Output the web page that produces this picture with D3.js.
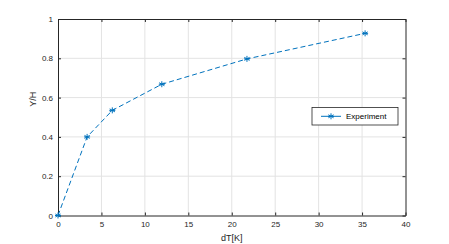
<!DOCTYPE html>
<html>
<head>
<meta charset="utf-8">
<script src="https://cdn.jsdelivr.net/npm/d3@7"></script>
<style>
  body { margin: 0; background: #fff; }
  svg { display: block; font-family: "Liberation Sans", Arial, sans-serif; }
</style>
</head>
<body>
<div id="chart"></div>
<script>
// data
const dT = [0, 3.35, 6.25, 11.95, 21.75, 35.35];
const yH = [0, 0.40, 0.535, 0.668, 0.797, 0.927];
const xTicks = [0, 5, 10, 15, 20, 25, 30, 35, 40];
const yTicks = [0, 0.2, 0.4, 0.6, 0.8, 1];
const seriesName = "Experiment";

const W = 449, H = 244;
const mLeft = 58, mRight = 405.5, mTop = 19, mBottom = 215.5;
const blue = "#0072BD", axisCol = "#262626";

const svg = d3.select("#chart").append("svg")
  .attr("width", W).attr("height", H);

const x = d3.scaleLinear().domain([0, 40]).range([mLeft, mRight]);
const y = d3.scaleLinear().domain([0, 1]).range([mBottom, mTop]);

// grid
svg.append("g").selectAll("line").data(xTicks.slice(1, -1)).join("line")
  .attr("x1", d => x(d)).attr("x2", d => x(d))
  .attr("y1", mTop).attr("y2", mBottom)
  .attr("stroke", "#e3e3e3").attr("stroke-width", 1);
svg.append("g").selectAll("line").data(yTicks.slice(1, -1)).join("line")
  .attr("y1", d => y(d)).attr("y2", d => y(d))
  .attr("x1", mLeft).attr("x2", mRight)
  .attr("stroke", "#e3e3e3").attr("stroke-width", 1);

// axes
const xAxis = svg.append("g").attr("transform", `translate(0,${mBottom})`)
  .call(d3.axisBottom(x).tickValues(xTicks).tickFormat(d3.format("")).tickSizeInner(-3).tickSizeOuter(0).tickPadding(6));
const xTop = svg.append("g").attr("transform", `translate(0,${mTop})`)
  .call(d3.axisTop(x).tickValues(xTicks).tickFormat("").tickSizeInner(-3).tickSizeOuter(0));
const yAxis = svg.append("g").attr("transform", `translate(${mLeft},0)`)
  .call(d3.axisLeft(y).tickValues(yTicks).tickFormat(d3.format("")).tickSizeInner(-3).tickSizeOuter(0).tickPadding(5));
const yRight = svg.append("g").attr("transform", `translate(${mRight},0)`)
  .call(d3.axisRight(y).tickValues(yTicks).tickFormat("").tickSizeInner(-3).tickSizeOuter(0));

[xAxis, xTop, yAxis, yRight].forEach(g => {
  g.select(".domain").attr("stroke", axisCol).attr("stroke-width", 1);
  g.selectAll(".tick line").attr("stroke", axisCol);
  g.selectAll("text").attr("fill", axisCol).attr("font-size", 8)
    .attr("font-family", "Liberation Sans, Arial, sans-serif");
});

// axis labels
svg.append("text").attr("x", (mLeft + mRight) / 2).attr("y", 241)
  .attr("text-anchor", "middle").attr("font-size", 9).attr("fill", axisCol)
  .text("dT[K]");
svg.append("text").attr("transform", `translate(36,${(mTop + mBottom) / 2 - 18}) rotate(-90)`)
  .attr("text-anchor", "middle").attr("font-size", 9).attr("fill", axisCol)
  .text("Y/H");

// series
const pts = dT.map((d, i) => [d, yH[i]]);
svg.append("path").datum(pts)
  .attr("d", d3.line().x(d => x(d[0])).y(d => y(d[1])))
  .attr("fill", "none").attr("stroke", blue).attr("stroke-width", 1)
  .attr("stroke-dasharray", "5,3");

function star(g, cx, cy) {
  const r = 3;
  const s = g.append("g").attr("transform", `translate(${cx},${cy})`)
    .attr("stroke", blue).attr("stroke-width", 1);
  [0, 60, 120].forEach(a => {
    const rad = a * Math.PI / 180;
    s.append("line")
      .attr("x1", -r * Math.sin(rad)).attr("y1", -r * Math.cos(rad))
      .attr("x2", r * Math.sin(rad)).attr("y2", r * Math.cos(rad));
  });
  s.append("line").attr("x1", -r).attr("x2", r).attr("y1", 0).attr("y2", 0);
}
const markers = svg.append("g");
pts.forEach(p => star(markers, x(p[0]), y(p[1])));

// legend
const lg = svg.append("g");
lg.append("rect").attr("x", 312).attr("y", 107.5).attr("width", 86).attr("height", 17.5)
  .attr("fill", "#fff").attr("stroke", "#262626").attr("stroke-width", 0.8);
lg.append("line").attr("x1", 321).attr("x2", 341).attr("y1", 116.3).attr("y2", 116.3)
  .attr("stroke", blue).attr("stroke-width", 1);
star(lg, 331, 116.3);
lg.append("text").attr("x", 346).attr("y", 119.3).attr("font-size", 8)
  .attr("fill", "#000").text(seriesName);
</script>
</body>
</html>
